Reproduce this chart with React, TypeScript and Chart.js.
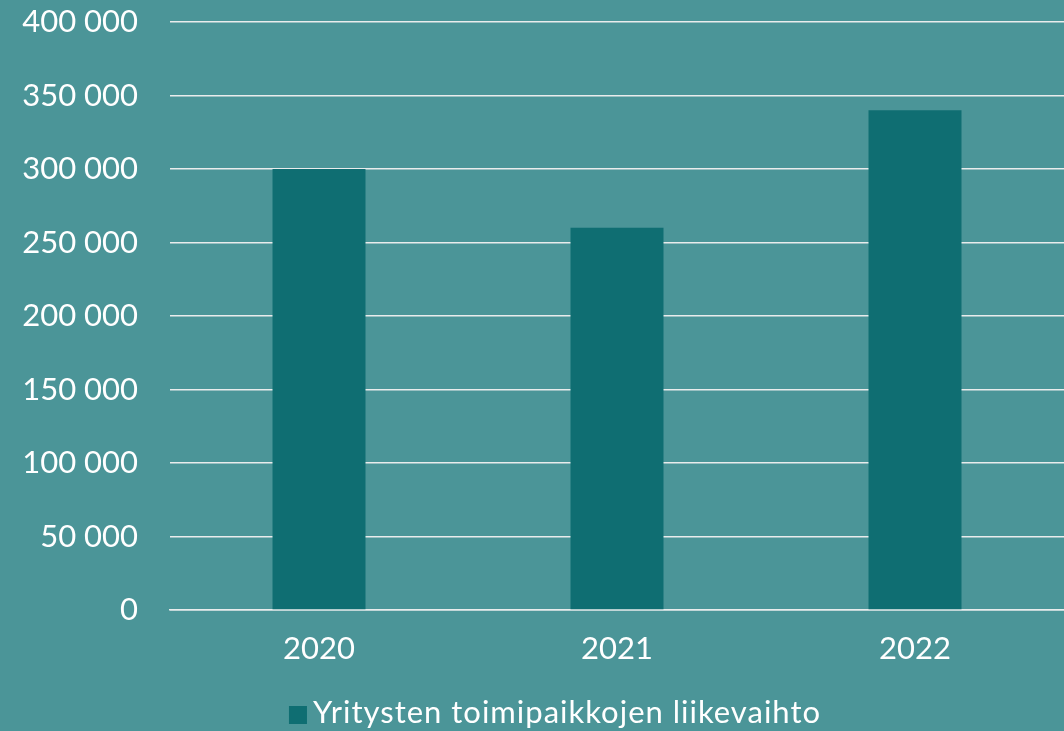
import React, { useEffect, useRef } from "react";
import { Chart, registerables } from "chart.js";

Chart.register(...registerables);

const categories = ["2020", "2021", "2022"];
const seriesLabel = "Yritysten toimipaikkojen liikevaihto";
const seriesValues = [300000, 260000, 340000];
const yMin = 0;
const yMax = 400000;
const yStep = 50000;

const BG = "#4B9598";
const BAR = "#0F6E72";
const GRID = "#E9ECEC";
const FONT = "Lato, 'Open Sans', sans-serif";
const FONT_SIZE = 31;

const fmt = (v: number) => String(v).replace(/\B(?=(\d{3})+(?!\d))/g, " ");

const customLegend = {
  id: "customLegend",
  afterDraw(chart: any) {
    const ctx = chart.ctx;
    const ds = chart.data.datasets[0];
    ctx.save();
    ctx.font = `${FONT_SIZE}px ${FONT}`;
    try {
      (ctx as any).letterSpacing = "1px";
    } catch (e) {}
    const text = ds.label as string;
    const tw = ctx.measureText(text).width;
    const box = 18;
    const gap = 6;
    const total = box + gap + tw;
    const cx = chart.width / 2 + 23;
    const x0 = cx - total / 2;
    const yc = 715;
    ctx.fillStyle = ds.backgroundColor;
    ctx.fillRect(x0, yc - box / 2, box, box);
    ctx.fillStyle = "#FFFFFF";
    ctx.textBaseline = "middle";
    ctx.textAlign = "left";
    ctx.fillText(text, x0 + box + gap, yc - 2);
    ctx.restore();
  },
};

export default function App() {
  const ref = useRef<HTMLCanvasElement | null>(null);
  useEffect(() => {
    if (!ref.current) return;
    const chart = new Chart(ref.current, {
      type: "bar",
      data: {
        labels: categories,
        datasets: [
          {
            label: seriesLabel,
            data: seriesValues,
            backgroundColor: BAR,
            borderWidth: 0,
            barPercentage: 0.312,
            categoryPercentage: 1,
          },
        ],
      },
      options: {
        responsive: true,
        maintainAspectRatio: false,
        animation: false,
        layout: { padding: { top: 22, right: 0, bottom: 0, left: 0 } },
        plugins: {
          legend: { display: false },
          tooltip: { enabled: false },
        },
        scales: {
          x: {
            grid: { display: false, drawTicks: false },
            border: { display: true, color: GRID, width: 1.5 },
            ticks: {
              color: "#FFFFFF",
              font: { family: FONT, size: FONT_SIZE },
              padding: 20,
            },
            afterFit(scale: any) {
              scale.height = 121;
            },
          },
          y: {
            min: yMin,
            max: yMax,
            grid: {
              color: GRID,
              lineWidth: 1.5,
              drawTicks: true,
              tickLength: 32,
              tickColor: "rgba(0,0,0,0)",
            },
            border: { display: false },
            ticks: {
              stepSize: yStep,
              color: "#FFFFFF",
              font: { family: FONT, size: FONT_SIZE },
              padding: 0,
              callback: (v: any) => fmt(Number(v)),
            },
            afterFit(scale: any) {
              scale.width = 170;
            },
          },
        },
      },
      plugins: [customLegend],
    });
    return () => chart.destroy();
  }, []);

  return (
    <div
      style={{
        position: "absolute",
        left: 0,
        top: 0,
        width: 1064,
        height: 731,
        background: BG,
      }}
    >
      <canvas ref={ref} />
    </div>
  );
}
